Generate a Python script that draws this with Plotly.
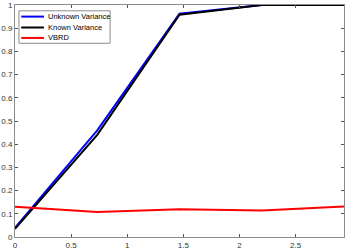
import plotly.graph_objects as go

x_vals = [0, 0.733, 1.466, 2.199, 2.932]
unknown_var = [0.04, 0.46, 0.962, 1.0, 1.0]
known_var = [0.035, 0.44, 0.958, 1.0, 1.0]
vbrd = [0.13, 0.108, 0.12, 0.114, 0.131]

series_names = ["Unknown Variance", "Known Variance", "VBRD"]
series_colors = ["#0000ff", "#000000", "#ff0000"]

x_ticks = [0, 0.5, 1, 1.5, 2, 2.5]
x_tick_labels = ["0", "0.5", "1", "1.5", "2", "2.5"]
y_ticks = [0, 0.1, 0.2, 0.3, 0.4, 0.5, 0.6, 0.7, 0.8, 0.9, 1]
y_tick_labels = ["0", "0.1", "0.2", "0.3", "0.4", "0.5", "0.6", "0.7", "0.8", "0.9", "1"]

fig = go.Figure()
for yv, name, col in zip([unknown_var, known_var, vbrd], series_names, series_colors):
    fig.add_trace(go.Scatter(x=x_vals, y=yv, mode="lines", name=name,
                             line=dict(color=col, width=2), showlegend=False,
                             hoverinfo="skip"))

axis_common = dict(showgrid=False, zeroline=False, showline=True, mirror="ticks",
                   linecolor="#8c8c8c", linewidth=1, ticks="inside", ticklen=3,
                   tickcolor="#555555", automargin=False,
                   tickfont=dict(family="Liberation Sans, Arial", size=8, color="#333333"))

fig.update_xaxes(range=[0, 2.932], tickvals=x_ticks, ticktext=x_tick_labels, **axis_common)
fig.update_yaxes(range=[0, 1], tickvals=y_ticks, ticktext=y_tick_labels, **axis_common)

# manual MATLAB-style legend
leg_x0, leg_x1, leg_y0, leg_y1 = 0.012, 0.289, 0.835, 0.975
entry_y = [0.950, 0.903, 0.858]
shapes = [dict(type="rect", xref="x domain", yref="y domain", x0=leg_x0, x1=leg_x1,
               y0=leg_y0, y1=leg_y1, line=dict(color="#8c8c8c", width=1), fillcolor="white",
               layer="above")]
annotations = []
for ey, name, col in zip(entry_y, series_names, series_colors):
    shapes.append(dict(type="line", xref="x domain", yref="y domain", x0=0.019, x1=0.088,
                       y0=ey, y1=ey, line=dict(color=col, width=2), layer="above"))
    annotations.append(dict(xref="x domain", yref="y domain", x=0.094, y=ey, text=name,
                            showarrow=False, xanchor="left", yanchor="middle",
                            font=dict(family="Liberation Sans, Arial", size=7.5, color="#000000")))

fig.update_layout(
    width=350, height=251,
    margin=dict(l=15, r=6, t=5, b=14),
    plot_bgcolor="white", paper_bgcolor="white",
    showlegend=False, hovermode=False,
    shapes=shapes, annotations=annotations,
)

fig.write_html("out.html", config={"displayModeBar": False, "staticPlot": True},
               post_script="document.body.style.margin='0px';document.body.style.overflow='hidden';")
